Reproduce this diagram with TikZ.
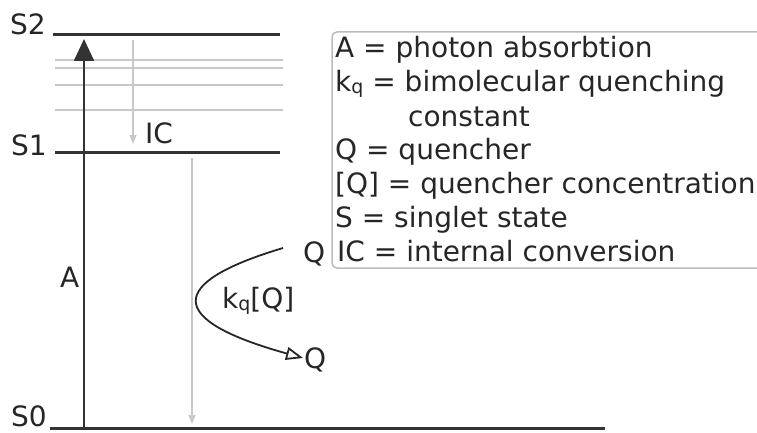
\documentclass[tikz,border=0pt]{standalone}
\usepackage{fontspec}
\setmainfont{DejaVu Sans}
\usetikzlibrary{arrows.meta}
\definecolor{ink}{HTML}{262626}
\definecolor{lvl}{HTML}{333333}
\definecolor{pale}{HTML}{C8C8C8}
\definecolor{boxc}{HTML}{BBBBBB}
\newcommand{\subq}{\raisebox{-2pt}{\fontsize{19}{19}\selectfont q}}
\begin{document}
\begin{tikzpicture}[x=1pt,y=-1pt,
  lbl/.style={inner sep=0pt, font=\fontsize{28}{33}\selectfont, text=ink},
  level/.style={draw=lvl, line width=3pt},
  sublevel/.style={draw=pale, line width=1.3pt},
  palearrow/.style={draw=pale, line width=1.6pt, -{Triangle[length=9pt,width=7pt]}},
  absarrow/.style={draw=lvl, line width=2.4pt, -{Triangle[length=22pt,width=20pt]}},
  qarrow/.style={draw=ink, line width=1.8pt, -{Triangle[open,length=17pt,width=13pt,line width=1.8pt]}},
  legbox/.style={draw=boxc, line width=1.5pt, rounded corners=5pt}]
\useasboundingbox (0,0) rectangle (757,433);
% levels
\coordinate (s2a) at (53,35);  \coordinate (s2b) at (280,35);
\coordinate (s1a) at (55,152); \coordinate (s1b) at (280,152);
\coordinate (s0a) at (50,428); \coordinate (s0b) at (605,428);
\foreach \yy/\nm in {60/v1,68/v2,85/v3,110/v4}{
  \coordinate (\nm a) at (55,\yy); \coordinate (\nm b) at (283,\yy);
  \draw[sublevel] (\nm a) -- (\nm b);
}
\draw[level] (s2a) -- (s2b);
\draw[level] (s1a) -- (s1b);
\draw[level] (s0a) -- (s0b);
\node[lbl, anchor=base west] (lS2) at (10,35) {S2};
\node[lbl, anchor=base west] (lS1) at (11,155) {S1};
\node[lbl, anchor=base west] (lS0) at (11,426) {S0};
% absorption
\coordinate (abot) at (84,428); \coordinate (atop) at (84,39);
\draw[absarrow] (abot) -- (atop);
\node[lbl, anchor=base west] (lA) at (60,287) {A};
% IC
\coordinate (icT) at (133,40); \coordinate (icB) at (133,144);
\draw[palearrow] (icT) -- (icB);
\node[lbl, anchor=base west] (lIC) at (145,143) {IC};
% S1 -> S0
\coordinate (fT) at (192,158); \coordinate (fB) at (192,424);
\draw[palearrow] (fT) -- (fB);
% quenching
\node[lbl, anchor=base west] (q1) at (303,262) {Q};
\node[lbl, anchor=base west] (q2) at (304,368) {Q};
\coordinate (qs) at (283,248); \coordinate (qe) at (303,358);
\draw[qarrow] (qs) .. controls (166,283) and (166,320) .. (qe);
\node[lbl, anchor=base west] (kq) at (222,308) {k\subq[Q]};
% legend
\draw[legbox] (332,32) rectangle (775,268);
\node[lbl, anchor=base west] (g1) at (335,58) {A = photon absorbtion};
\node[lbl, anchor=base west] (g2) at (335,92) {k\subq{} = bimolecular quenching};
\node[lbl, anchor=base west] (g3) at (408,126) {constant};
\node[lbl, anchor=base west] (g4) at (335,159.5) {Q = quencher};
\node[lbl, anchor=base west] (g5) at (335,193) {[Q] = quencher concentration};
\node[lbl, anchor=base west] (g6) at (335,227) {S = singlet state};
\node[lbl, anchor=base west] (g7) at (337,261) {IC = internal conversion};
\end{tikzpicture}
\end{document}
